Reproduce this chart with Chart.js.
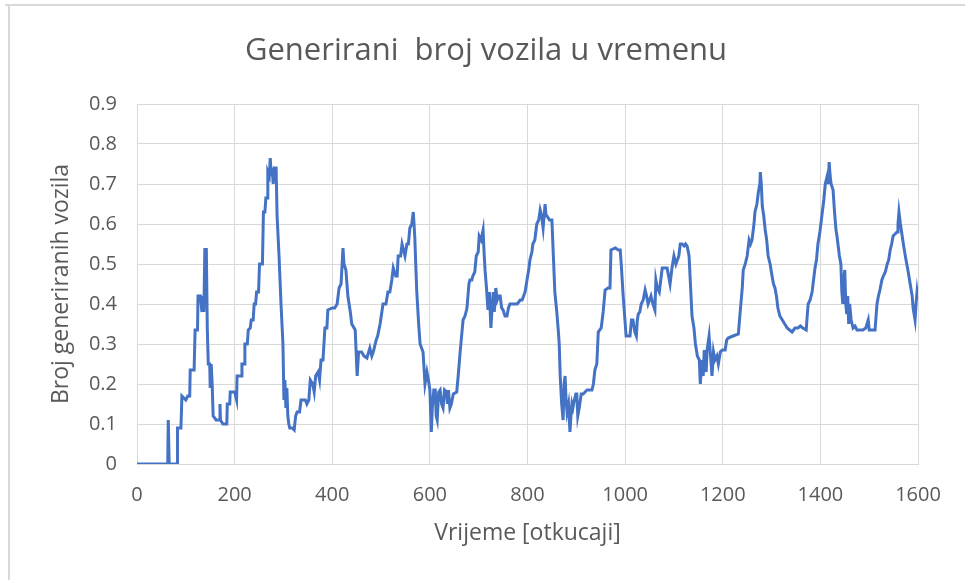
<!DOCTYPE html>
<html>
<head>
<meta charset="utf-8">
<script src="https://cdn.jsdelivr.net/npm/chart.js@4.4.0/dist/chart.umd.min.js"></script>
<style>
html,body{margin:0;padding:0;background:#fff;}
#wrap{width:965px;height:580px;}
</style>
</head>
<body>
<div id="wrap"><canvas id="c" width="965" height="580"></canvas></div>
<script>
const chartTitle = "Generirani  broj vozila u vremenu";
const xTitle = "Vrijeme [otkucaji]";
const yTitle = "Broj generiranih vozila";

const timeTicks = [0,63,64,66,82,83,90,92,100,104,108,109,117,119,124,125,130,133,135,137,139,141,142,144,146,149,150,152,154,156,162,169,170,171,176,184,185,190,191,200,204,205,214,215,220,221,226,228,232,234,238,240,243,245,249,251,257,259,262,264,267,268,271,273,275,277,279,281,285,287,291,295,299,301,303,305,307,309,311,313,318,322,325,328,333,336,345,348,352,355,360,363,366,371,374,377,381,385,389,391,400,405,410,414,418,422,424,428,432,437,440,447,451,454,460,465,471,477,481,484,490,493,498,504,510,514,518,522,525,530,533,535,540,543,549,553,556,559,563,566,569,573,577,580,586,590,594,597,600,603,605,608,611,613,615,618,621,624,627,630,634,636,638,641,644,648,655,658,662,668,672,676,680,682,686,688,692,695,699,701,705,709,711,713,716,719,722,725,727,730,732,735,738,741,744,747,750,754,758,761,764,772,779,785,789,795,799,803,805,809,811,815,819,823,826,829,832,834,836,838,840,845,850,853,856,860,863,865,867,870,873,875,877,879,881,884,887,889,891,893,896,899,901,903,906,910,914,918,922,932,935,938,942,945,951,955,959,965,969,971,980,986,990,992,996,999,1002,1006,1010,1013,1016,1020,1023,1025,1027,1030,1033,1037,1041,1044,1047,1050,1053,1057,1061,1063,1066,1070,1073,1076,1081,1086,1089,1092,1096,1100,1104,1107,1110,1113,1117,1121,1124,1127,1131,1133,1137,1141,1144,1148,1152,1154,1157,1160,1162,1166,1168,1172,1175,1178,1181,1184,1188,1191,1195,1199,1205,1208,1211,1221,1232,1236,1240,1242,1246,1250,1254,1257,1260,1264,1266,1270,1273,1276,1277,1279,1281,1284,1287,1290,1293,1297,1301,1304,1307,1310,1313,1317,1322,1327,1332,1337,1342,1345,1348,1354,1359,1364,1371,1373,1375,1379,1383,1386,1389,1392,1395,1399,1404,1407,1410,1414,1416,1418,1420,1422,1426,1429,1432,1434,1436,1439,1442,1444,1446,1448,1450,1452,1454,1456,1458,1460,1463,1467,1471,1475,1481,1487,1493,1498,1500,1506,1512,1516,1519,1522,1526,1529,1533,1537,1540,1543,1546,1549,1553,1557,1559,1561,1564,1567,1570,1574,1577,1580,1584,1588,1590,1594,1596,1598,1600];

const vehicles = [0,0,0.11,0,0,0.09,0.09,0.17,0.16,0.17,0.17,0.235,0.235,0.335,0.335,0.42,0.42,0.38,0.42,0.38,0.54,0.40,0.54,0.34,0.25,0.25,0.19,0.25,0.2,0.12,0.11,0.11,0.15,0.11,0.10,0.10,0.15,0.15,0.18,0.18,0.16,0.22,0.22,0.25,0.25,0.3,0.3,0.335,0.34,0.36,0.36,0.40,0.40,0.43,0.43,0.50,0.50,0.63,0.63,0.665,0.665,0.73,0.72,0.765,0.72,0.74,0.70,0.74,0.74,0.62,0.52,0.40,0.30,0.16,0.21,0.14,0.19,0.12,0.10,0.09,0.09,0.085,0.12,0.13,0.13,0.16,0.16,0.15,0.16,0.21,0.20,0.18,0.22,0.23,0.21,0.26,0.26,0.34,0.34,0.385,0.39,0.39,0.40,0.44,0.45,0.54,0.50,0.485,0.42,0.38,0.35,0.335,0.22,0.28,0.28,0.27,0.265,0.29,0.27,0.28,0.31,0.32,0.35,0.40,0.40,0.43,0.43,0.46,0.49,0.47,0.47,0.52,0.52,0.55,0.52,0.55,0.55,0.59,0.60,0.63,0.57,0.435,0.35,0.30,0.28,0.20,0.23,0.21,0.185,0.08,0.14,0.185,0.185,0.12,0.11,0.18,0.185,0.15,0.14,0.185,0.18,0.15,0.185,0.14,0.15,0.175,0.18,0.22,0.28,0.36,0.37,0.39,0.45,0.46,0.46,0.47,0.48,0.52,0.53,0.57,0.56,0.585,0.53,0.485,0.44,0.385,0.43,0.34,0.38,0.43,0.38,0.44,0.41,0.42,0.42,0.39,0.385,0.37,0.37,0.39,0.40,0.40,0.40,0.41,0.41,0.43,0.46,0.49,0.51,0.53,0.55,0.56,0.60,0.61,0.635,0.62,0.59,0.62,0.65,0.62,0.62,0.61,0.61,0.52,0.43,0.38,0.335,0.30,0.22,0.15,0.11,0.20,0.22,0.16,0.13,0.15,0.08,0.12,0.15,0.14,0.16,0.175,0.175,0.12,0.14,0.175,0.175,0.18,0.185,0.185,0.20,0.235,0.25,0.33,0.34,0.38,0.435,0.44,0.44,0.535,0.54,0.535,0.535,0.50,0.42,0.37,0.32,0.32,0.32,0.36,0.36,0.33,0.32,0.36,0.375,0.38,0.40,0.41,0.435,0.42,0.40,0.41,0.42,0.40,0.385,0.46,0.44,0.43,0.46,0.49,0.49,0.49,0.47,0.45,0.49,0.52,0.50,0.51,0.52,0.55,0.55,0.545,0.55,0.545,0.52,0.47,0.37,0.34,0.30,0.27,0.26,0.20,0.26,0.22,0.285,0.23,0.285,0.32,0.27,0.22,0.28,0.26,0.27,0.25,0.28,0.285,0.285,0.31,0.315,0.32,0.325,0.385,0.44,0.485,0.50,0.52,0.56,0.55,0.56,0.60,0.63,0.65,0.68,0.70,0.73,0.70,0.645,0.62,0.585,0.56,0.52,0.50,0.47,0.45,0.44,0.42,0.39,0.37,0.36,0.35,0.34,0.335,0.33,0.335,0.34,0.34,0.345,0.34,0.335,0.37,0.40,0.41,0.43,0.46,0.49,0.51,0.55,0.58,0.63,0.66,0.70,0.72,0.70,0.755,0.72,0.70,0.685,0.63,0.585,0.57,0.55,0.52,0.50,0.43,0.40,0.46,0.485,0.40,0.375,0.42,0.35,0.40,0.36,0.34,0.345,0.335,0.335,0.335,0.34,0.36,0.335,0.335,0.335,0.40,0.42,0.435,0.46,0.47,0.48,0.50,0.51,0.535,0.55,0.57,0.575,0.58,0.60,0.63,0.60,0.575,0.55,0.52,0.50,0.48,0.45,0.42,0.39,0.36,0.40,0.43,0.41];

const yTickLabels = ["0","0.1","0.2","0.3","0.4","0.5","0.6","0.7","0.8","0.9"];
const xTickLabels = ["0","200","400","600","800","1000","1200","1400","1600"];

const points = timeTicks.map((t, i) => ({x: t, y: vehicles[i]}));

const txt = '#595959';
const fam = "'Open Sans', sans-serif";

const frame = {
  id: 'frame',
  beforeDraw(chart) {
    const ctx = chart.ctx;
    ctx.save();
    ctx.fillStyle = '#ffffff';
    ctx.fillRect(0, 0, chart.width, chart.height);
    ctx.strokeStyle = '#d9d9d9';
    ctx.lineWidth = 2;
    ctx.beginPath();
    ctx.moveTo(5, 5);
    ctx.lineTo(965, 5);
    ctx.moveTo(9, 5);
    ctx.lineTo(9, 580);
    ctx.stroke();
    ctx.restore();
  },
  afterDraw(chart) {
    const ctx = chart.ctx;
    ctx.save();
    ctx.fillStyle = txt;
    ctx.font = "31px " + fam;
    ctx.textAlign = 'center';
    ctx.textBaseline = 'middle';
    ctx.fillText(chartTitle, 486, 51);
    ctx.restore();
  }
};

new Chart(document.getElementById('c'), {
  type: 'line',
  data: {
    datasets: [{
      data: points,
      borderColor: '#4472C4',
      backgroundColor: '#4472C4',
      borderWidth: 3,
      pointRadius: 0,
      tension: 0,
      fill: false
    }]
  },
  options: {
    responsive: false,
    animation: false,
    events: [],
    layout: { padding: { left: 10, right: 47, top: 104, bottom: 10 } },
    plugins: {
      legend: { display: false },
      tooltip: { enabled: false },
      title: { display: false }
    },
    scales: {
      x: {
        type: 'linear',
        min: 0, max: 1600,
        afterFit(s) { s.height = 106; },
        afterBuildTicks(s) { s.ticks = xTickLabels.map(v => ({value: Number(v)})); },
        ticks: {
          color: txt, padding: 19, maxRotation: 0, autoSkip: false,
          font: { family: fam, size: 20 },
          callback: (v) => String(v)
        },
        grid: { color: '#d9d9d9', lineWidth: 1, drawTicks: false },
        border: { color: '#d9d9d9', width: 1 },
        title: {
          display: true, text: xTitle, color: txt,
          font: { family: fam, size: 23, lineHeight: 1.2 },
          padding: { top: 0, bottom: 23 }
        }
      },
      y: {
        min: 0, max: 0.9,
        afterFit(s) { s.width = 127; },
        afterBuildTicks(s) { s.ticks = yTickLabels.map(v => ({value: Number(v)})); },
        ticks: {
          color: txt, padding: 20, autoSkip: false,
          font: { family: fam, size: 20 },
          callback: (v) => { const i = yTickLabels.findIndex(l => Math.abs(Number(l) - v) < 1e-9); return i >= 0 ? yTickLabels[i] : ''; }
        },
        grid: { color: '#d9d9d9', lineWidth: 1, drawTicks: false },
        border: { color: '#d9d9d9', width: 1 },
        title: {
          display: true, text: yTitle, color: txt,
          font: { family: fam, size: 23, lineHeight: 1.2 },
          padding: { top: 38, bottom: 0 }
        }
      }
    }
  },
  plugins: [frame]
});
</script>
</body>
</html>
